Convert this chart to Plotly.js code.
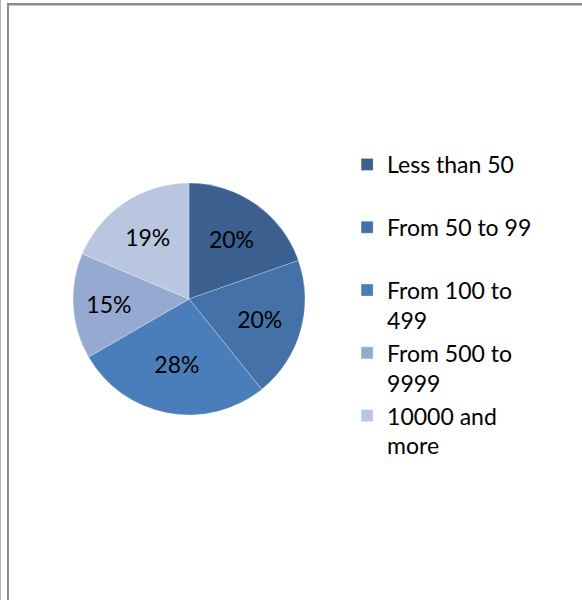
<!DOCTYPE html>
<html>
<head>
<meta charset="utf-8">
<script src="https://cdn.plot.ly/plotly-3.0.1.min.js"></script>
<style>
  html, body { margin: 0; padding: 0; background: #fff; }
  #wrap { position: relative; width: 582px; height: 600px; overflow: hidden; }
  #chart { position: absolute; left: 0; top: 0; width: 582px; height: 600px; }
  .ln { position: absolute; pointer-events: none; }
</style>
</head>
<body>
<div id="wrap">
  <div id="chart"></div>
  <div class="ln" style="left:0;top:0;width:1px;height:600px;background:#b4b4b4"></div>
  <div class="ln" style="left:7px;top:3px;width:2px;height:597px;background:#8c8c8c"></div>
  <div class="ln" style="left:7px;top:3px;width:575px;height:2px;background:#8c8c8c"></div>
  <div class="ln" style="left:9px;top:5px;width:573px;height:1px;background:#c8c8c8"></div>
</div>
<script>
const categories = ["Less than 50", "From 50 to 99", "From 100 to<br>499", "From 500 to<br>9999", "10000 and<br>more"];
const shares = [20, 20, 28, 15, 19];
const colors = ["#3b5f8e", "#4472a8", "#4a7ebb", "#95a9d1", "#b9c6e0"];

const legendLabels = categories.map(c => c.indexOf("<br>") >= 0 ? c : c + "<br> ");

const trace = {
  type: "pie",
  labels: legendLabels,
  values: shares,
  text: shares.map(v => v + "%"),
  texttemplate: "%{text}",
  textinfo: "text",
  textposition: "inside",
  insidetextorientation: "horizontal",
  sort: false,
  direction: "clockwise",
  rotation: 0,
  marker: { colors: colors, line: { color: "rgba(255,255,255,0.45)", width: 0.6 } },
  textfont: { family: "Lato, 'Open Sans', sans-serif", size: 23, color: "#000" },
  domain: { x: [0.1254, 0.5241], y: [0.3083, 0.695] },
  hoverinfo: "none"
};

const layout = {
  width: 582,
  height: 600,
  margin: { l: 0, r: 0, t: 0, b: 0 },
  paper_bgcolor: "#fff",
  showlegend: true,
  legend: {
    x: 0.5964, xanchor: "left",
    y: 0.7617, yanchor: "top",
    valign: "top",
    font: { family: "Lato, 'Open Sans', sans-serif", size: 23, color: "#000" },
    bgcolor: "rgba(0,0,0,0)",
    traceorder: "normal"
  },
  font: { family: "Lato, 'Open Sans', sans-serif" }
};

Plotly.newPlot("chart", [trace], layout, { displayModeBar: false, staticPlot: true });
</script>
</body>
</html>
